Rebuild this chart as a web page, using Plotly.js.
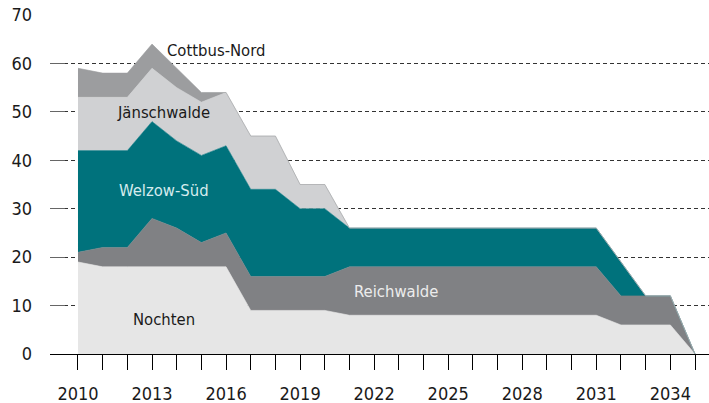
<!DOCTYPE html>
<html>
<head>
<meta charset="utf-8">
<script src="https://cdn.plot.ly/plotly-3.0.1.min.js"></script>
<style>html,body{margin:0;padding:0;background:#fff;}#chart{width:709px;height:403px;}</style>
</head>
<body>
<div id="chart"></div>
<script>
var years = [2010,2011,2012,2013,2014,2015,2016,2017,2018,2019,2020,2021,2022,2023,2024,2025,2026,2027,2028,2029,2030,2031,2032,2033,2034,2035];
var nochten     = [19,18,18,18,18,18,18,9,9,9,9,8,8,8,8,8,8,8,8,8,8,8,6,6,6,0];
var reichwalde  = [2,4,4,10,8,5,7,7,7,7,7,10,10,10,10,10,10,10,10,10,10,10,6,6,6,0];
var welzowSued  = [21,20,20,20,18,18,18,18,18,14,14,8,8,8,8,8,8,8,8,8,8,8,7,0,0,0];
var jaenschwalde= [11,11,11,11,11,11,11,11,11,5,5,0,0,0,0,0,0,0,0,0,0,0,0,0,0,0];
var cottbusNord = [6,5,5,5,4,2,0,0,0,0,0,0,0,0,0,0,0,0,0,0,0,0,0,0,0,0];
var seriesNames = ["Nochten","Reichwalde","Welzow-Süd","Jänschwalde","Cottbus-Nord"];
var xTickVals = [2010,2011,2012,2013,2014,2015,2016,2017,2018,2019,2020,2021,2022,2023,2024,2025,2026,2027,2028,2029,2030,2031,2032,2033,2034,2035];
var xTickText = ["2010","","","2013","","","2016","","","2019","","","2022","","","2025","","","2028","","","2031","","","2034",""];
var yTickVals = [0,10,20,30,40,50,60,70];

var colors = ["#e6e6e6","#808184","#00727c","#d0d1d3","#9c9d9f"];
var vals = [nochten, reichwalde, welzowSued, jaenschwalde, cottbusNord];
var traces = vals.map(function(v,i){
  return {x: years, y: v, name: seriesNames[i], type:'scatter', mode:'lines',
    stackgroup:'one', line:{width:0.6, color:colors[i], shape:'linear'},
    fillcolor: colors[i], hoverinfo:'skip'};
});

var labelFont = "DejaVu Sans Condensed, Liberation Sans, sans-serif";
var tickFont = "DejaVu Sans Condensed, Liberation Sans, sans-serif";
var annotations = [
  {x:2015.6, y:62.6, text:"Cottbus-Nord", color:"#1a1a1a"},
  {x:2013.46, y:49.8, text:"Jänschwalde", color:"#1a1a1a"},
  {x:2013.5, y:33.8, text:"Welzow-Süd", color:"#d6ecee"},
  {x:2013.48, y:7.1, text:"Nochten", color:"#1a1a1a"},
  {x:2022.87, y:12.9, text:"Reichwalde", color:"#ececec"}
].map(function(a){
  return {x:a.x, y:a.y, xref:'x', yref:'y', text:a.text, showarrow:false,
    xanchor:'center', yanchor:'middle', font:{family:labelFont, size:16.5, color:a.color}};
});

var layout = {
  width:709, height:403,
  margin:{l:50, r:0, t:14.5, b:49, pad:0},
  paper_bgcolor:'#fff', plot_bgcolor:'#fff',
  showlegend:false,
  xaxis:{range:[2008.866, 2035.567], tickvals:xTickVals, ticktext:xTickText,
    ticks:'outside', ticklen:15, tickwidth:1, tickcolor:'#000',
    showline:true, linecolor:'#000', linewidth:1.2, showgrid:false, zeroline:false,
    ticklabelstandoff:8,
    tickfont:{family:tickFont, size:18, color:'#1a1a1a'}, fixedrange:true},
  yaxis:{range:[0,70], tickvals:yTickVals, ticks:'inside', ticklen:15, tickwidth:1.2, tickcolor:'#666',
    showgrid:true, gridcolor:'#333', griddash:'4px,3px', gridwidth:1,
    showline:false, zeroline:false, ticklabelstandoff:17,
    tickfont:{family:tickFont, size:18, color:'#1a1a1a'}, fixedrange:true},
  annotations: annotations
};
Plotly.newPlot('chart', traces, layout, {displayModeBar:false, staticPlot:true});
</script>
</body>
</html>
